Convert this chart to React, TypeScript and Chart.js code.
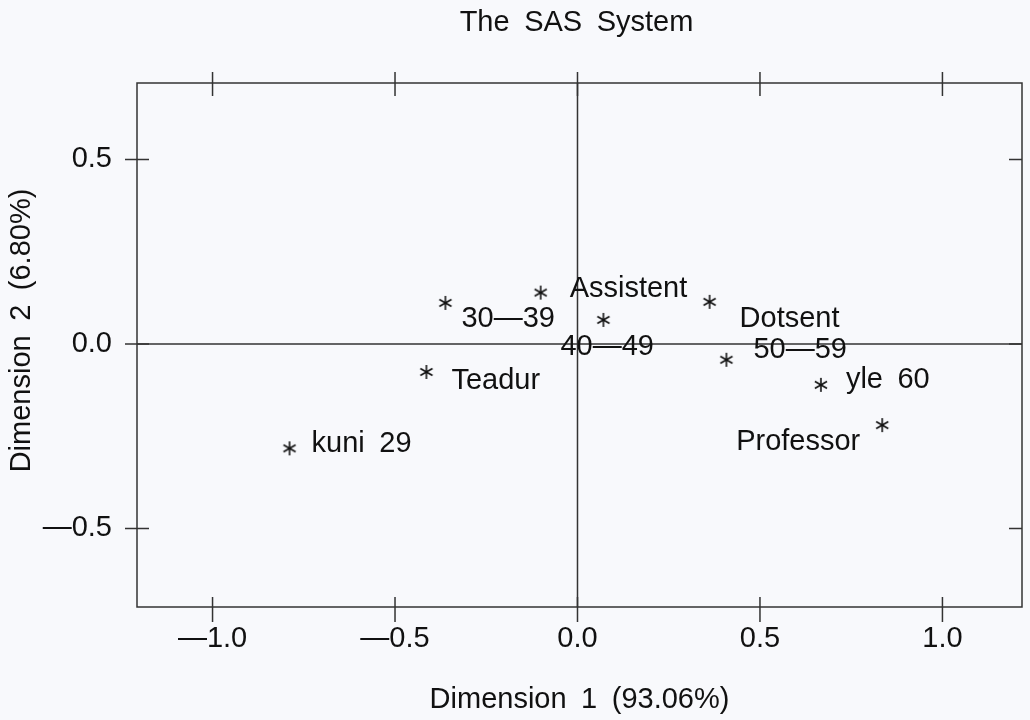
import React, { useEffect, useRef } from "react";
import { Chart, registerables } from "chart.js";

Chart.register(...registerables);

// ---- data ----
const SP = "\u2002"; // SAS-style wide word space
const POINT_LABELS = ["kuni" + SP + "29", "Teadur", "30—39", "Assistent", "40—49", "Dotsent", "50—59", "yle" + SP + "60", "Professor"];
const DIM1 = [-0.789, -0.414, -0.362, -0.101, 0.071, 0.362, 0.408, 0.667, 0.835];
const DIM2 = [-0.283, -0.076, 0.111, 0.139, 0.065, 0.114, -0.043, -0.111, -0.220];
const X_TICKS = [-1.0, -0.5, 0.0, 0.5, 1.0];
const Y_TICKS = [-0.5, 0.0, 0.5];
const TITLE = ["The", "SAS", "System"].join(SP);
const X_TITLE = ["Dimension", "1", "(93.06%)"].join(SP);
const Y_TITLE = SP + SP + ["Dimension", "2", "(6.80%)"].join(SP);

// ---- style / placement ----
const X_MIN = -1.207;
const X_MAX = 1.218;
const Y_MIN = -0.713;
const Y_MAX = 0.707;
const FONT = "'Liberation Sans', Arial, Helvetica, sans-serif";
const FSIZE = 29;
const INK = "#111111";
const LINE = "#333333";
const BG = "#f8f9fc";
// label offset from the point (dx, dy to baseline, alignment)
const LABEL_PLACE: [number, number, CanvasTextAlign][] = [
  [22, 4, "left"],
  [25, 17, "left"],
  [16, 24, "left"],
  [29, 4, "left"],
  [-43, 35, "left"],
  [30, 25, "left"],
  [27, -2, "left"],
  [25, 3, "left"],
  [-22, 25, "right"],
];

const fmt = (v: number) => {
  const s = Math.abs(v).toFixed(1);
  return v < -1e-9 ? "—" + s : s;
};

function makeStar(): HTMLCanvasElement {
  const c = document.createElement("canvas");
  c.width = 16;
  c.height = 16;
  const ctx = c.getContext("2d")!;
  ctx.strokeStyle = INK;
  ctx.lineWidth = 1.6;
  ctx.lineCap = "butt";
  const r = 7;
  for (const a of [90, 30, 150]) {
    const rad = (a * Math.PI) / 180;
    ctx.beginPath();
    ctx.moveTo(8 - r * Math.cos(rad), 8 - r * Math.sin(rad));
    ctx.lineTo(8 + r * Math.cos(rad), 8 + r * Math.sin(rad));
    ctx.stroke();
  }
  return c;
}

const decorPlugin = {
  id: "sasDecor",
  beforeDraw(chart: any) {
    const { ctx, width, height } = chart;
    ctx.save();
    ctx.fillStyle = BG;
    ctx.fillRect(0, 0, width, height);
    ctx.restore();
  },
  beforeDatasetsDraw(chart: any) {
    const { ctx, chartArea: a, scales } = chart;
    const xs = scales.x;
    const ys = scales.y;
    ctx.save();
    ctx.strokeStyle = LINE;
    ctx.lineWidth = 1.5;
    // frame
    ctx.strokeRect(a.left, a.top, a.right - a.left, a.bottom - a.top);
    // zero reference lines
    const x0 = xs.getPixelForValue(0);
    const y0 = ys.getPixelForValue(0);
    ctx.beginPath();
    ctx.moveTo(x0, a.top);
    ctx.lineTo(x0, a.bottom);
    ctx.moveTo(a.left, y0);
    ctx.lineTo(a.right, y0);
    ctx.stroke();
    // ticks
    ctx.beginPath();
    for (const v of X_TICKS) {
      const px = xs.getPixelForValue(v);
      ctx.moveTo(px, a.top - 11);
      ctx.lineTo(px, a.top + 13);
      ctx.moveTo(px, a.bottom - 10);
      ctx.lineTo(px, a.bottom + 15);
    }
    for (const v of Y_TICKS) {
      const py = ys.getPixelForValue(v);
      ctx.moveTo(a.left - 12, py);
      ctx.lineTo(a.left + 12, py);
      ctx.moveTo(a.right - 13, py);
      ctx.lineTo(a.right, py);
    }
    ctx.stroke();
    ctx.restore();
  },
  afterDatasetsDraw(chart: any) {
    const { ctx } = chart;
    const meta = chart.getDatasetMeta(0);
    ctx.save();
    ctx.fillStyle = INK;
    ctx.font = `${FSIZE}px ${FONT}`;
    ctx.textBaseline = "alphabetic";
    meta.data.forEach((pt: any, i: number) => {
      const [dx, dy, al] = LABEL_PLACE[i];
      ctx.textAlign = al;
      ctx.fillText(POINT_LABELS[i], pt.x + dx, pt.y + dy);
    });
    // title
    ctx.textAlign = "center";
    ctx.textBaseline = "middle";
    ctx.fillText(TITLE, (chart.chartArea.left + chart.chartArea.right) / 2 - 3, 23);
    ctx.restore();
  },
};

export default function App() {
  const ref = useRef<HTMLCanvasElement | null>(null);
  useEffect(() => {
    if (!ref.current) return;
    const star = makeStar();
    const chart = new Chart(ref.current, {
      type: "scatter",
      data: {
        datasets: [
          {
            label: "points",
            data: DIM1.map((x, i) => ({ x, y: DIM2[i] })),
            pointStyle: star as any,
            pointRadius: 7,
            borderColor: INK,
            backgroundColor: INK,
          },
        ],
      },
      options: {
        animation: false,
        responsive: false,
        events: [],
        layout: { padding: { top: 83, right: 2, left: 0, bottom: 0 } },
        plugins: {
          legend: { display: false },
          title: { display: false },
          tooltip: { enabled: false },
        },
        scales: {
          x: {
            type: "linear",
            min: X_MIN,
            max: X_MAX,
            afterBuildTicks: (s: any) => {
              s.ticks = X_TICKS.map((v) => ({ value: v }));
            },
            afterFit: (s: any) => {
              s.height = 113;
            },
            grid: { display: false, drawTicks: false },
            border: { display: false },
            ticks: {
              color: INK,
              font: { family: FONT, size: FSIZE },
              padding: 15,
              maxRotation: 0,
              autoSkip: false,
              callback: (v: any) => fmt(Number(v)),
            },
            title: {
              display: true,
              text: X_TITLE,
              color: INK,
              font: { family: FONT, size: FSIZE },
              padding: { top: 0, bottom: 3 },
            },
          },
          y: {
            type: "linear",
            min: Y_MIN,
            max: Y_MAX,
            afterBuildTicks: (s: any) => {
              s.ticks = Y_TICKS.map((v) => ({ value: v }));
            },
            afterFit: (s: any) => {
              s.width = 137;
            },
            grid: { display: false, drawTicks: false },
            border: { display: false },
            ticks: {
              color: INK,
              font: { family: FONT, size: FSIZE },
              padding: 25,
              autoSkip: false,
              callback: (v: any) => fmt(Number(v)),
            },
            title: {
              display: true,
              text: Y_TITLE,
              color: INK,
              font: { family: FONT, size: FSIZE },
              padding: { top: 5, bottom: 0 },
            },
          },
        },
      },
      plugins: [decorPlugin],
    });
    return () => chart.destroy();
  }, []);
  return (
    <div style={{ position: "fixed", left: 0, top: 0, width: 1030, height: 720 }}>
      <canvas ref={ref} width={1030} height={720} style={{ width: 1030, height: 720, display: "block" }} />
    </div>
  );
}
